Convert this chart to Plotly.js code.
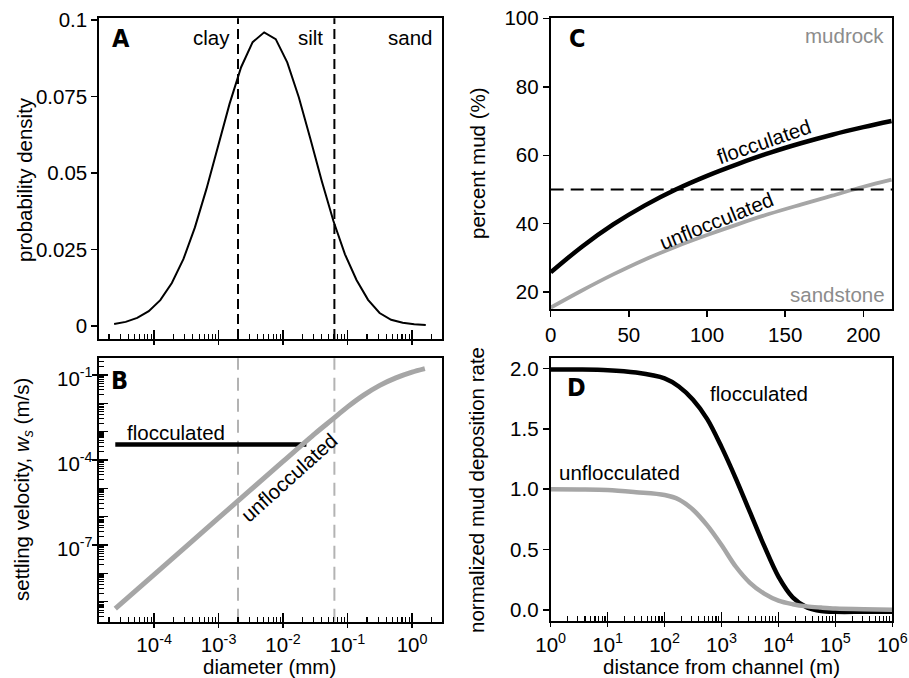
<!DOCTYPE html>
<html>
<head>
<meta charset="utf-8">
<script src="https://cdn.plot.ly/plotly-3.0.1.min.js"></script>
<style>html,body{margin:0;padding:0;background:#fff;}#chart{width:909px;height:678px;}</style>
</head>
<body>
<div id="chart"></div>
<script>
// ---------- DATA ----------
// Panel A: grain-size probability density
const diamA = [2.399e-5, 3.622e-5, 5.470e-5, 8.260e-5, 1.247e-4, 1.884e-4, 2.844e-4, 4.295e-4, 6.486e-4, 9.795e-4,
  1.479e-3, 2.234e-3, 3.373e-3, 5.093e-3, 7.691e-3, 1.161e-2, 1.754e-2, 2.649e-2, 3.999e-2, 6.039e-2,
  9.120e-2, 0.1377, 0.2080, 0.3141, 0.4742, 0.7161, 1.081, 1.633];
const densA = [0.0006, 0.0013, 0.0026, 0.0048, 0.0084, 0.0140, 0.0218, 0.0322, 0.0448, 0.0588,
  0.0726, 0.0846, 0.0928, 0.0960, 0.0938, 0.0862, 0.0748, 0.0612, 0.0472, 0.0343,
  0.0234, 0.0150, 0.0085, 0.0042, 0.0020, 0.0010, 0.0005, 0.0003];
const grainBoundaries = [0.002, 0.0625];   // clay/silt, silt/sand (mm)
const grainClasses = ['clay', 'silt', 'sand'];

// Panel B: settling velocity
const diamB = [2.5e-5, 1e-4, 1e-3, 1e-2, 0.0316, 0.0562, 0.1, 0.178, 0.316, 0.562, 1.0, 1.58];
const wsUnfloc = [5.7e-10, 9.0e-9, 9.0e-7, 8.9e-5, 8.7e-4, 2.55e-3, 7.5e-3, 0.0195, 0.043, 0.079, 0.126, 0.168];
const diamFloc = [2.5e-5, 0.023];
const wsFloc = [3.5e-4, 3.5e-4];

// Panel C: percent mud vs distance
const distC = [0, 20, 40, 60, 80, 100, 120, 140, 160, 180, 200, 218];
const mudFloc = [25.8, 33.3, 39.8, 45.3, 50.0, 54.0, 57.5, 60.7, 63.5, 66.0, 68.2, 70.0];
const mudUnfloc = [15.5, 20.5, 25.2, 29.5, 33.3, 36.7, 39.9, 42.9, 45.6, 48.2, 50.8, 52.9];
const mudThreshold = 50;

// Panel D: normalized mud deposition rate
const distD = [1, 3.16, 10, 31.6, 100, 178, 316, 562, 1000, 1778, 3162, 5623, 10000,
  17783, 31623, 56234, 100000, 316228, 1000000];
const depFloc = [1.99, 1.99, 1.985, 1.965, 1.917, 1.85, 1.74, 1.58, 1.35, 1.09, 0.81, 0.53, 0.276,
  0.105, 0.022, -0.008, -0.015, -0.015, -0.015];
const depUnfloc = [1.0, 0.998, 0.993, 0.975, 0.952, 0.915, 0.83, 0.70, 0.538, 0.36, 0.225, 0.135, 0.077,
  0.048, 0.030, 0.020, 0.012, 0.006, 0.003];

// Tick labels
const aYTicks = [0, 0.025, 0.05, 0.075, 0.1];
const aYTickText = ['0', '0.025', '0.05', '0.075', '0.1'];
const bXTicks = [1e-4, 1e-3, 1e-2, 1e-1, 1];
const bXTickText = ['10<sup>-4</sup>', '10<sup>-3</sup>', '10<sup>-2</sup>', '10<sup>-1</sup>', '10<sup>0</sup>'];
const bYTicks = [1e-7, 1e-4, 1e-1];
const bYTickText = ['10<sup>-7</sup>', '10<sup>-4</sup>', '10<sup>-1</sup>'];
const bYDecades = [1e-9, 1e-8, 1e-7, 1e-6, 1e-5, 1e-4, 1e-3, 1e-2, 1e-1];
const cXTicks = [0, 50, 100, 150, 200];
const cYTicks = [20, 40, 60, 80, 100];
const dXTicks = [1, 10, 100, 1000, 10000, 100000, 1000000];
const dXTickText = ['10<sup>0</sup>', '10<sup>1</sup>', '10<sup>2</sup>', '10<sup>3</sup>', '10<sup>4</sup>', '10<sup>5</sup>', '10<sup>6</sup>'];
const dYTicks = [0, 0.5, 1, 1.5, 2];
const dYTickText = ['0.0', '0.5', '1.0', '1.5', '2.0'];

// ---------- STYLE ----------
const W = 909, H = 678;
const FONT = '"Liberation Sans", Arial, Helvetica, sans-serif';
const BOLDFONT = '"Liberation Sans Narrow", "DejaVu Sans Condensed", "Arial Narrow", sans-serif';
const GREY = '#a6a6a6';
const FS = 20.5;

function minorLog(lo, hi) {
  const v = [];
  for (let e = lo; e <= hi; e++) for (let m = 2; m <= 9; m++) v.push(m * Math.pow(10, e));
  return v;
}
const px2x = x => x / W;
const px2y = y => 1 - y / H;

const base = {
  showline: true, linecolor: '#000', linewidth: 2, mirror: true,
  showgrid: false, zeroline: false, ticks: 'outside', ticklen: 6, tickwidth: 1.5, tickcolor: '#000',
  tickfont: {family: FONT, size: FS, color: '#000'}, autorange: false, fixedrange: true
};
const overlayTicks = (over, anchor, type, range, vals, dir, len, w) => ({
  overlaying: over, anchor: anchor, type: type, range: range, autorange: false, fixedrange: true,
  tickmode: 'array', tickvals: vals, ticks: dir, ticklen: len, tickwidth: w, tickcolor: '#000',
  showticklabels: false, showline: false, showgrid: false, zeroline: false
});

const xDomL = [px2x(99.3), px2x(441.7)];
const xDomR = [px2x(550.7), px2x(892.3)];
const rangeDiam = [-4.85, 0.46];
const rangeWs = [-9.71, -0.41];
const rangeDist = [0, 6];

// ---------- TRACES ----------
const traces = [
  // A
  {type: 'scatter', mode: 'lines', x: diamA, y: densA, xaxis: 'x', yaxis: 'y',
   line: {color: '#000', width: 2}, hoverinfo: 'skip'},
  // B
  {type: 'scatter', mode: 'lines', x: diamFloc, y: wsFloc, xaxis: 'x2', yaxis: 'y2',
   line: {color: '#000', width: 4.5}, hoverinfo: 'skip'},
  {type: 'scatter', mode: 'lines', x: diamB, y: wsUnfloc, xaxis: 'x2', yaxis: 'y2',
   line: {color: GREY, width: 5, shape: 'spline', smoothing: 0.8}, hoverinfo: 'skip'},
  // C
  {type: 'scatter', mode: 'lines', x: distC, y: mudFloc, xaxis: 'x3', yaxis: 'y3',
   line: {color: '#000', width: 4.5, shape: 'spline'}, hoverinfo: 'skip'},
  {type: 'scatter', mode: 'lines', x: distC, y: mudUnfloc, xaxis: 'x3', yaxis: 'y3',
   line: {color: GREY, width: 3.8, shape: 'spline'}, hoverinfo: 'skip'},
  // D
  {type: 'scatter', mode: 'lines', x: distD, y: depFloc, xaxis: 'x4', yaxis: 'y4',
   line: {color: '#000', width: 4.5, shape: 'spline', smoothing: 0.9}, hoverinfo: 'skip'},
  {type: 'scatter', mode: 'lines', x: distD, y: depUnfloc, xaxis: 'x4', yaxis: 'y4',
   line: {color: GREY, width: 4.5, shape: 'spline', smoothing: 0.9}, hoverinfo: 'skip'},
  // empty traces that host the overlay tick axes
  {type: 'scatter', x: [], y: [], xaxis: 'x5', yaxis: 'y', hoverinfo: 'skip'},
  {type: 'scatter', x: [], y: [], xaxis: 'x6', yaxis: 'y2', hoverinfo: 'skip'},
  {type: 'scatter', x: [], y: [], xaxis: 'x7', yaxis: 'y4', hoverinfo: 'skip'},
  {type: 'scatter', x: [], y: [], xaxis: 'x8', yaxis: 'y', hoverinfo: 'skip'},
  {type: 'scatter', x: [], y: [], xaxis: 'x9', yaxis: 'y2', hoverinfo: 'skip'},
  {type: 'scatter', x: [], y: [], xaxis: 'x10', yaxis: 'y4', hoverinfo: 'skip'},
  {type: 'scatter', x: [], y: [], xaxis: 'x2', yaxis: 'y5', hoverinfo: 'skip'},
  {type: 'scatter', x: [], y: [], xaxis: 'x2', yaxis: 'y6', hoverinfo: 'skip'}
];

// ---------- ANNOTATIONS ----------
function ann(text, x, y, o) {
  o = o || {};
  return Object.assign({
    text: text, x: px2x(x), y: px2y(y), xref: 'paper', yref: 'paper', showarrow: false,
    xanchor: 'center', yanchor: 'middle',
    font: {family: FONT, size: FS, color: '#000'}
  }, o);
}
const letter = (t, x, y) => ann('<b>' + t + '</b>', x, y, {font: {family: BOLDFONT, size: 25, color: '#000'}});
const greyFont = {family: FONT, size: FS, color: '#8c8c8c'};

const annotations = [
  letter('A', 121, 38), letter('B', 120, 380), letter('C', 577, 38), letter('D', 576, 387),
  ann(grainClasses[0], 211.5, 37), ann(grainClasses[1], 310, 37), ann(grainClasses[2], 409.5, 37),
  ann('flocculated', 176, 433),
  ann('unflocculated', 289, 478, {textangle: -42}),
  ann('mudrock', 844.5, 35, {font: greyFont}),
  ann('sandstone', 837, 294, {font: greyFont}),
  ann('flocculated', 763.5, 142, {textangle: -19}),
  ann('unflocculated', 716.7, 220.7, {textangle: -22}),
  ann('flocculated', 759, 393),
  ann('unflocculated', 619.5, 472.7),
  ann('probability density', 25, 180, {textangle: -90}),
  ann('settling velocity, <i>w<sub>s</sub></i> (m/s)', 23, 490, {textangle: -90}),
  ann('diameter (mm)', 269, 666),
  ann('percent mud (%)', 477, 163, {textangle: -90}),
  ann('normalized mud deposition rate', 476, 490, {textangle: -90}),
  ann('distance from channel (m)', 721.7, 666)
];
// B y-axis tick labels, placed on the axis's own scale
bYTicks.forEach((v, i) => {
  annotations.push({
    text: bYTickText[i], xref: 'paper', yref: 'y2', x: px2x(95), y: Math.log10(v),
    xanchor: 'right', yanchor: 'middle', showarrow: false, yshift: -2,
    font: {family: FONT, size: FS, color: '#000'}
  });
});

// ---------- SHAPES ----------
const shapes = [];
grainBoundaries.forEach(b => {
  shapes.push({type: 'line', xref: 'x', yref: 'y domain', x0: b, x1: b, y0: 0, y1: 1,
    line: {color: '#000', width: 2, dash: '10px,5px'}});
  shapes.push({type: 'line', xref: 'x2', yref: 'y2 domain', x0: b, x1: b, y0: 0, y1: 1,
    line: {color: '#b3b3b3', width: 2, dash: '13px,8px'}, layer: 'below'});
});
shapes.push({type: 'line', xref: 'x3 domain', yref: 'y3', x0: 0, x1: 1, y0: mudThreshold, y1: mudThreshold,
  line: {color: '#000', width: 2, dash: '13px,7px'}});

// ---------- LAYOUT ----------
const diamDecades = [1e-4, 1e-3, 1e-2, 1e-1, 1];
const layout = {
  width: W, height: H, margin: {l: 0, r: 0, t: 0, b: 0},
  paper_bgcolor: '#fff', plot_bgcolor: '#fff', showlegend: false,
  font: {family: FONT, size: FS, color: '#000'},
  xaxis: Object.assign({}, base, {domain: xDomL, anchor: 'y', type: 'log', range: rangeDiam,
    tickmode: 'array', tickvals: diamDecades, ticks: 'inside', ticklen: 9, showticklabels: false}),
  yaxis: Object.assign({}, base, {domain: [px2y(339), px2y(18.3)], anchor: 'x', range: [-0.0043, 0.1006],
    tickmode: 'array', tickvals: aYTicks, ticktext: aYTickText}),
  xaxis2: Object.assign({}, base, {domain: xDomL, anchor: 'y2', type: 'log', range: rangeDiam,
    tickmode: 'array', tickvals: bXTicks, ticktext: bXTickText, ticks: 'inside', ticklen: 9,
    ticklabelstandoff: 4}),
  yaxis2: Object.assign({}, base, {domain: [px2y(621.7), px2y(358.3)], anchor: 'x2', type: 'log', range: rangeWs,
    tickmode: 'array', tickvals: bYTicks, ticks: 'outside', ticklen: 5, showticklabels: false}),
  xaxis3: Object.assign({}, base, {domain: xDomR, anchor: 'y3', range: [0, 218.5],
    tickmode: 'array', tickvals: cXTicks}),
  yaxis3: Object.assign({}, base, {domain: [px2y(309), px2y(18.3)], anchor: 'x3', range: [15.1, 100],
    tickmode: 'array', tickvals: cYTicks}),
  xaxis4: Object.assign({}, base, {domain: xDomR, anchor: 'y4', type: 'log', range: rangeDist,
    tickmode: 'array', tickvals: dXTicks, ticktext: dXTickText, ticks: 'inside', ticklen: 9,
    ticklabelstandoff: 4}),
  yaxis4: Object.assign({}, base, {domain: [px2y(621), px2y(358.3)], anchor: 'x4', range: [-0.091, 2.083],
    tickmode: 'array', tickvals: dYTicks, ticktext: dYTickText}),
  // short outside ticks at decades
  xaxis5: overlayTicks('x', 'y', 'log', rangeDiam, diamDecades, 'outside', 5, 1.5),
  xaxis6: overlayTicks('x2', 'y2', 'log', rangeDiam, bXTicks, 'outside', 5, 1.5),
  xaxis7: overlayTicks('x4', 'y4', 'log', rangeDist, dXTicks, 'outside', 5, 1.5),
  // minor inside ticks
  xaxis8: overlayTicks('x', 'y', 'log', rangeDiam, minorLog(-5, 0), 'inside', 5, 1.1),
  xaxis9: overlayTicks('x2', 'y2', 'log', rangeDiam, minorLog(-5, 0), 'inside', 5, 1.1),
  xaxis10: overlayTicks('x4', 'y4', 'log', rangeDist, minorLog(0, 5), 'inside', 5, 1.1),
  // B y-axis: long inside ticks at every decade, short inside minor ticks
  yaxis5: overlayTicks('y2', 'x2', 'log', rangeWs, bYDecades, 'inside', 9, 1.5),
  yaxis6: overlayTicks('y2', 'x2', 'log', rangeWs, minorLog(-10, -1), 'inside', 5, 1.1),
  annotations: annotations,
  shapes: shapes
};

Plotly.newPlot('chart', traces, layout, {staticPlot: true, displayModeBar: false});
</script>
</body>
</html>
